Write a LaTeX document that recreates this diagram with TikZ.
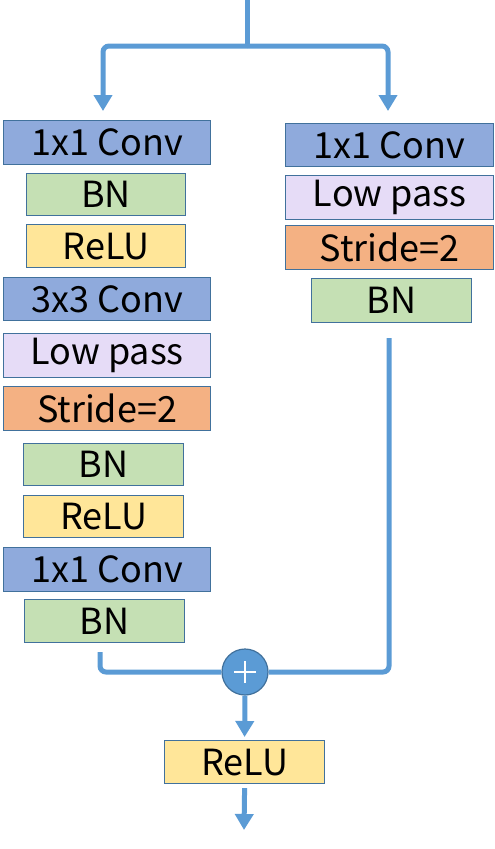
\documentclass[tikz,border=0pt]{standalone}
\usepackage{fontspec}
\setmainfont{Noto Sans CJK JP}
\usetikzlibrary{arrows.meta}
\tikzset{>=latex}
\definecolor{convblue}{HTML}{8FAADC}
\definecolor{bngreen}{HTML}{C5E0B4}
\definecolor{reluyellow}{HTML}{FFE699}
\definecolor{lowlilac}{HTML}{E6DCF7}
\definecolor{strideorange}{HTML}{F4B183}
\definecolor{edgeblue}{HTML}{41719C}
\definecolor{flowblue}{HTML}{5B9BD5}
\tikzset{
  layer/.style={draw=edgeblue, line width=1.2pt, anchor=north west, inner sep=0pt,
    font=\fontsize{36}{36}\selectfont},
  flow/.style={draw=flowblue, line width=5pt, rounded corners=6pt},
  flowarrow/.style={flow, -{Triangle[width=18pt,length=16pt]}}
}

\begin{document}
\begin{tikzpicture}[x=1pt,y=-1pt]
            \useasboundingbox (0,0) rectangle (495,849);

            % main branch
            \node[layer, fill=convblue, minimum width=207pt, minimum height=44pt] (lconva) at (3,120) {1x1 Conv};
            \node[layer, fill=bngreen, minimum width=159pt, minimum height=42pt] (lbna) at (26,173) {BN};
            \node[layer, fill=reluyellow, minimum width=159pt, minimum height=43pt] (lrelua) at (26,224) {ReLU};
            \node[layer, fill=convblue, minimum width=207pt, minimum height=43pt] (lconvb) at (3,277) {3x3 Conv};
            \node[layer, fill=lowlilac, minimum width=207pt, minimum height=44pt] (llow) at (3,333) {Low pass};
            \node[layer, fill=strideorange, minimum width=207pt, minimum height=44pt] (lstride) at (3,386) {Stride=2};
            \node[layer, fill=bngreen, minimum width=160pt, minimum height=42pt] (lbnb) at (23,443) {BN};
            \node[layer, fill=reluyellow, minimum width=160pt, minimum height=42pt] (lrelub) at (23,495) {ReLU};
            \node[layer, fill=convblue, minimum width=207pt, minimum height=44pt] (lconvc) at (3,547) {1x1 Conv};
            \node[layer, fill=bngreen, minimum width=160pt, minimum height=43pt] (lbnc) at (24,599) {BN};

            % shortcut branch
            \node[layer, fill=convblue, minimum width=208pt, minimum height=43pt] (rconv) at (285,123) {1x1 Conv};
            \node[layer, fill=lowlilac, minimum width=208pt, minimum height=44pt] (rlow) at (285,175) {Low pass};
            \node[layer, fill=strideorange, minimum width=208pt, minimum height=44pt] (rstride) at (285,225) {Stride=2};
            \node[layer, fill=bngreen, minimum width=160pt, minimum height=44pt] (rbn) at (311,278) {BN};

            % merge
            \node[circle, draw=edgeblue, fill=flowblue, line width=1.2pt, minimum size=46pt, inner sep=0pt] (add) at (245,672) {};
            \draw[white, line width=1.6pt] ([xshift=-11pt]add.center) -- ([xshift=11pt]add.center)
                                           ([yshift=-11pt]add.center) -- ([yshift=11pt]add.center);
            \node[layer, fill=reluyellow, minimum width=160pt, minimum height=43pt] (relu) at (164,740) {ReLU};

            \coordinate (in) at (247,0);
            \coordinate (split) at (247,46);
            \coordinate (lin) at (103,111);
            \coordinate (rin) at (388,111);
            \coordinate (lout) at (100,652);
            \coordinate (rout) at (389,338);
            \coordinate (out) at (244,830);

            \draw[flow] (in) -- (split);
            \draw[flowarrow] (split) -| (lin);
            \draw[flowarrow] (split) -| (rin);
            \draw[flow] (lout) |- (add.west);
            \draw[flow] (rout) |- (add.east);
            \draw[flowarrow] (add.south) -- ([yshift=3pt]relu.north);
            \draw[flowarrow] ([yshift=-4pt]relu.south) -- (out);
        \end{tikzpicture}
\end{document}
